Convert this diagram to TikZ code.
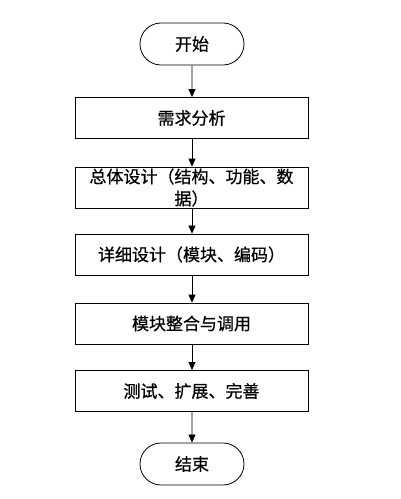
\documentclass[tikz,border=0pt]{standalone}
\usepackage{fontspec}
\newfontfamily\cjk[FakeBold=0.6]{Noto Sans CJK SC}
\usetikzlibrary{arrows.meta,shapes.misc}
\begin{document}
\begin{tikzpicture}[x=1pt,y=1pt,
  every node/.style={font=\cjk\fontsize{17}{22}\selectfont, line width=0.8pt, draw=black, inner sep=0pt},
  procbox/.style={rectangle, minimum width=233pt, minimum height=41pt, align=center},
  termbox/.style={rounded rectangle, minimum width=104pt, minimum height=42pt},
  flow/.style={line width=0.8pt, -{Triangle[length=8pt,width=7pt]}}]
\useasboundingbox (0,0) rectangle (400,499);
\node[termbox] (start) at (192,455) {开始};
\node[procbox] (b1) at (191.5,381) {需求分析};
\node[procbox] (b2) at (191.5,311.5) {总体设计（结构、功能、数\\据）};
\node[procbox] (b3) at (191.5,244.5) {详细设计（模块、编码）};
\node[procbox] (b4) at (191.5,175.5) {模块整合与调用};
\node[procbox] (b5) at (191.5,108) {测试、扩展、完善};
\node[termbox] (end) at (192,35) {结束};
\draw[flow] (start) -- (start |- b1.north);
\draw[flow] (start |- b1.south) -- (start |- b2.north);
\draw[flow] (start |- b2.south) -- (start |- b3.north);
\draw[flow] (start |- b3.south) -- (start |- b4.north);
\draw[flow] (start |- b4.south) -- (start |- b5.north);
\draw[flow] (start |- b5.south) -- (end);
\end{tikzpicture}
\end{document}
